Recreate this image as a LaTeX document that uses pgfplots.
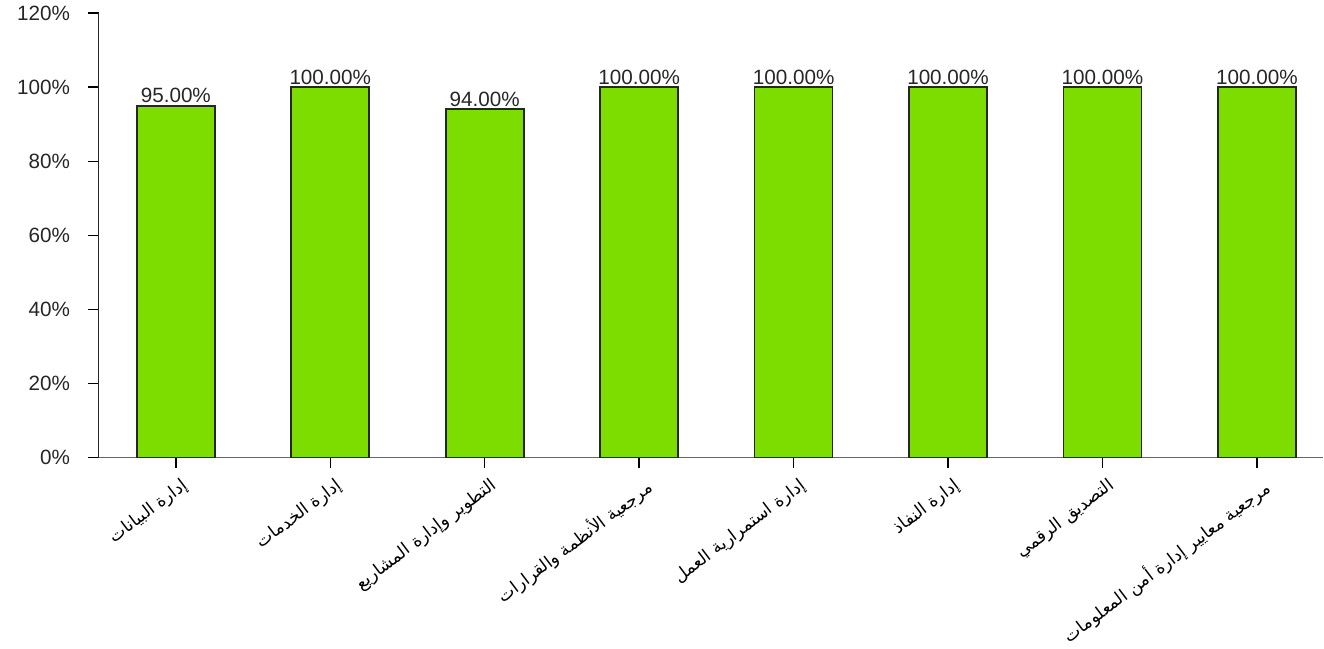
\documentclass[border=0pt]{standalone}
\usepackage{fontspec}
\setmainfont{Liberation Sans}
\newfontfamily\arabicfont[Script=Arabic]{DejaVu Sans}
\TeXXeTstate=1
\usepackage{pgfplots}
\pgfplotsset{compat=1.18}
\definecolor{barg}{RGB}{126,221,0}
\begin{document}
\begin{tikzpicture}
\begin{axis}[
  scale only axis,
  width=919pt, height=333.75pt,
  xmin=-0.5, xmax=7.43,
  ymin=0, ymax=120,
  axis x line*=bottom,
  axis y line*=left,
  x axis line style={draw=gray!80!black, line width=1pt},
  y axis line style={draw=black!85, line width=1pt},
  tick align=outside,
  major tick length=8pt,
  tick style={black, line width=1pt},
  ytick={0,20,...,120},
  yticklabel={\pgfmathprintnumber{\tick}\%},
  /pgf/number format/assume math mode=true,
  yticklabel style={font=\fontsize{15.5}{18}\selectfont, text=black!85, xshift=-10pt},
  xtick=data,
  xticklabels={
    {\arabicfont\beginR إدارة البيانات\endR},
    {\arabicfont\beginR إدارة الخدمات\endR},
    {\arabicfont\beginR التطوير وإدارة المشاريع\endR},
    {\arabicfont\beginR مرجعية الأنظمة والقرارات\endR},
    {\arabicfont\beginR إدارة استمرارية العمل\endR},
    {\arabicfont\beginR إدارة النفاذ\endR},
    {\arabicfont\beginR التصديق الرقمي\endR},
    {\arabicfont\beginR مرجعية معايير إدارة أمن المعلومات\endR}},
  xticklabel style={rotate=37, anchor=north east, font=\fontsize{13}{15}\selectfont, inner sep=1pt, yshift=-6pt},
  ybar, bar width=58.5pt,
  nodes near coords={\pgfmathprintnumber[fixed,fixed zerofill,precision=2]{\pgfplotspointmeta}\%},
  nodes near coords style={font=\fontsize{15.5}{18}\selectfont, text=black!85, inner sep=1.5pt},
]
\addplot[fill=barg, draw=black!85, line width=1.3pt] coordinates {
  (0,95) (1,100) (2,94) (3,100) (4,100) (5,100) (6,100) (7,100)
};
\end{axis}
\path[use as bounding box] (-74pt,-141.75pt) rectangle (919pt,343.5pt);
\end{tikzpicture}
\end{document}
